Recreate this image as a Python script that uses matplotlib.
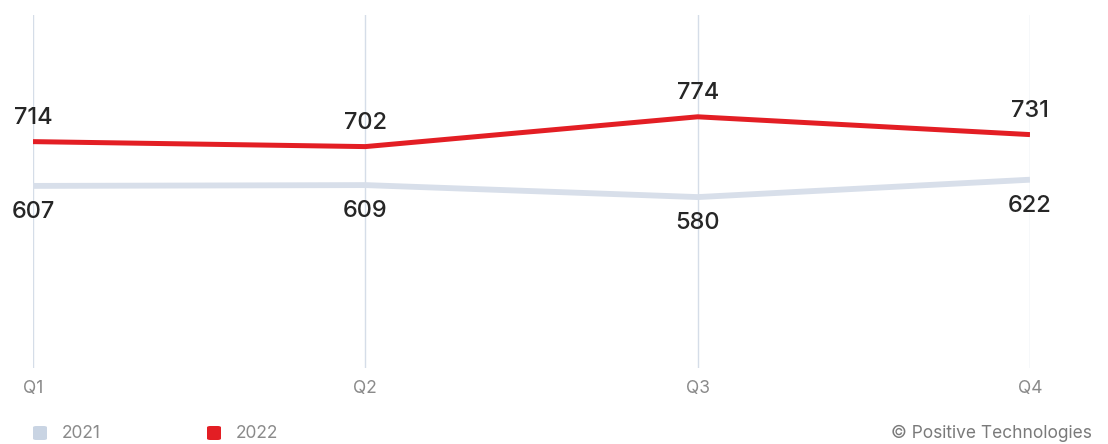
import matplotlib
matplotlib.use("Agg")
import matplotlib.pyplot as plt
from matplotlib.patches import FancyBboxPatch

quarters = ["Q1", "Q2", "Q3", "Q4"]
values_2021 = [607, 609, 580, 622]
values_2022 = [714, 702, 774, 731]
series_names = ["2021", "2022"]

c2021 = "#d8dfea"
c2021_leg = "#c9d4e3"
c2022 = "#e31e24"
txt_dark = "#262626"
txt_gray = "#8a8a8a"

plt.rcParams["font.family"] = ["Inter", "DejaVu Sans"]

fig = plt.figure(figsize=(11.08, 4.44), dpi=100)
ax = fig.add_axes([33 / 1108, 1 - 368 / 444, (1030 - 33) / 1108, (368 - 15) / 444])

x = list(range(len(quarters)))
for xi in x:
    ax.axvline(xi, color="#d5dde8", lw=1.0, zorder=0)

ax.plot(x, values_2021, color=c2021, lw=4.2, solid_capstyle="butt", zorder=2)
ax.plot(x, values_2022, color=c2022, lw=3.6, solid_capstyle="butt", zorder=3)

for xi, v in zip(x, values_2022):
    ax.annotate(str(v), (xi, v), xytext=(0, 17), textcoords="offset points",
                ha="center", va="center", fontsize=17, color=txt_dark, fontweight="medium")
for xi, v in zip(x, values_2021):
    ax.annotate(str(v), (xi, v), xytext=(0, -19), textcoords="offset points",
                ha="center", va="center", fontsize=17, color=txt_dark, fontweight="medium")

ax.set_xlim(0, 3)
ax.set_ylim(167, 1020)
ax.set_xticks(x)
ax.set_xticklabels(quarters, fontsize=12.5, color=txt_gray)
ax.tick_params(axis="x", length=0, pad=9)
ax.set_yticks([])
for s in ax.spines.values():
    s.set_visible(False)
ax.patch.set_alpha(0)

# legend
W, H = 1108, 444
for (lx, tx), name, col in zip([(33, 62), (207, 236)], series_names, [c2021_leg, c2022]):
    sq = 14
    box = FancyBboxPatch(((lx) / W, 1 - (433 + sq / 2) / H), sq / W, sq / H,
                         boxstyle="round,pad=0,rounding_size=0.003",
                         transform=fig.transFigure, facecolor=col, edgecolor="none")
    fig.add_artist(box)
    fig.text(tx / W, 1 - 433 / H, name, ha="left", va="center", fontsize=12.5, color=txt_gray)

fig.text(1092 / W, 1 - 433 / H, "© Positive Technologies", ha="right", va="center",
         fontsize=12.5, color="#7a7a7a")

fig.savefig("out.png", dpi=100)
